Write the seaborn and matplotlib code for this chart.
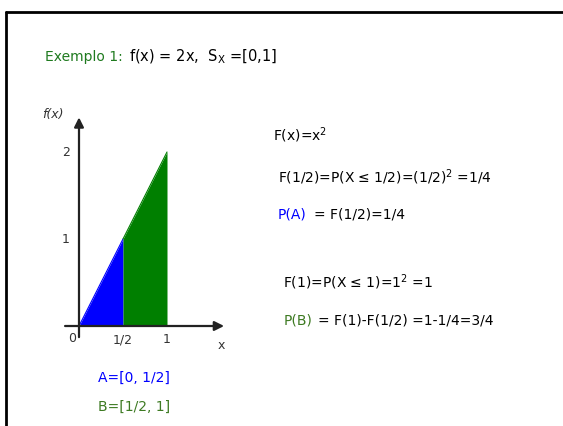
import matplotlib.pyplot as plt
import seaborn as sns
from matplotlib.lines import Line2D

# density f(x) = 2x read at the break points
x_pts = [0, 0.5, 1]
f_pts = [0, 1, 2]
x_ticks = [0.5, 1]
x_tick_labels = ["1/2", "1"]
y_ticks = [1, 2]
y_tick_labels = ["1", "2"]

sns.set_style("white")
plt.rcParams['font.family'] = ['DejaVu Sans']
plt.rcParams['mathtext.default'] = 'regular'

W, H = 563, 426
fig = plt.figure(figsize=(W / 100, H / 100), dpi=100)


def px(x, y):
    return x / W, 1 - y / H


# small graph: origin at pixel (79, 326), 88 px per x unit, 87 px per y unit
x0, sx, y0, sy = 79, 88, 326, 87
xlim = (-0.3, 1.8)
ylim = (-0.25, 2.55)
left, right = x0 + sx * xlim[0], x0 + sx * xlim[1]
bottom, top = y0 - sy * ylim[0], y0 - sy * ylim[1]
ax = fig.add_axes([left / W, 1 - bottom / H, (right - left) / W, (bottom - top) / H])
ax.set_xlim(xlim)
ax.set_ylim(ylim)
ax.axis('off')

blue, green = "#0000ff", "#007f00"
ax.fill_between(x_pts[:2], f_pts[:2], color=blue, lw=0)
ax.fill_between(x_pts[1:], f_pts[1:], color=green, lw=0)
sns.lineplot(x=x_pts[:2], y=f_pts[:2], color=blue, lw=0.8, ax=ax)
sns.lineplot(x=x_pts[1:], y=f_pts[1:], color=green, lw=0.8, ax=ax)

# axes with arrows
arrow = dict(arrowstyle='-|>', lw=1.6, color='#222222', mutation_scale=14)
ax.annotate('', xy=(1.68, 0), xytext=(-0.19, 0), arrowprops=arrow, annotation_clip=False)
ax.annotate('', xy=(0, 2.43), xytext=(0, -0.16), arrowprops=arrow, annotation_clip=False)

tick_kw = dict(fontsize=9, color='#333333', ha='center', va='center')
ax.text(-0.08, -0.14, "0", **tick_kw)
for t, lab in zip(x_ticks, x_tick_labels):
    ax.text(t, -0.16, lab, **tick_kw)
ax.text(1.62, -0.22, "x", **tick_kw)
for t, lab in zip(y_ticks, y_tick_labels):
    ax.text(-0.15, t, lab, **tick_kw)
ax.text(-0.3, 2.43, "f(x)", style='italic', **tick_kw)

# slide frame
fig.add_artist(Line2D([5.5 / W, 1], [1 - 11.5 / H] * 2, color='black', lw=2))
fig.add_artist(Line2D([5.5 / W] * 2, [0, 1 - 11.5 / H], color='black', lw=2))

txt = dict(fontsize=10, ha='left', va='center', color='black')
title_green = "#1f7a1f"
dark_green = "#3d7a22"
fig.text(*px(45, 57), "Exemplo 1:", **{**txt, 'color': title_green})
fig.text(*px(129, 57), "f(x) = 2x,  $S_X$ =[0,1]", **{**txt, 'fontsize': 10.5})

fig.text(*px(273, 135), "F(x)=x$^2$", **txt)
fig.text(*px(278, 177), "F(1/2)=P(X ≤ 1/2)=(1/2)$^2$ =1/4", **txt)
fig.text(*px(278, 215), "P(A)", **{**txt, 'color': blue})
fig.text(*px(314, 215), "= F(1/2)=1/4", **txt)
fig.text(*px(283, 282), "F(1)=P(X ≤ 1)=1$^2$ =1", **txt)
fig.text(*px(284, 321), "P(B)", **{**txt, 'color': dark_green})
fig.text(*px(318, 321), "= F(1)-F(1/2) =1-1/4=3/4", **txt)
fig.text(*px(98, 378), "A=[0, 1/2]", **{**txt, 'color': blue})
fig.text(*px(98, 407), "B=[1/2, 1]", **{**txt, 'color': dark_green})

fig.savefig("out.png", dpi=100)
